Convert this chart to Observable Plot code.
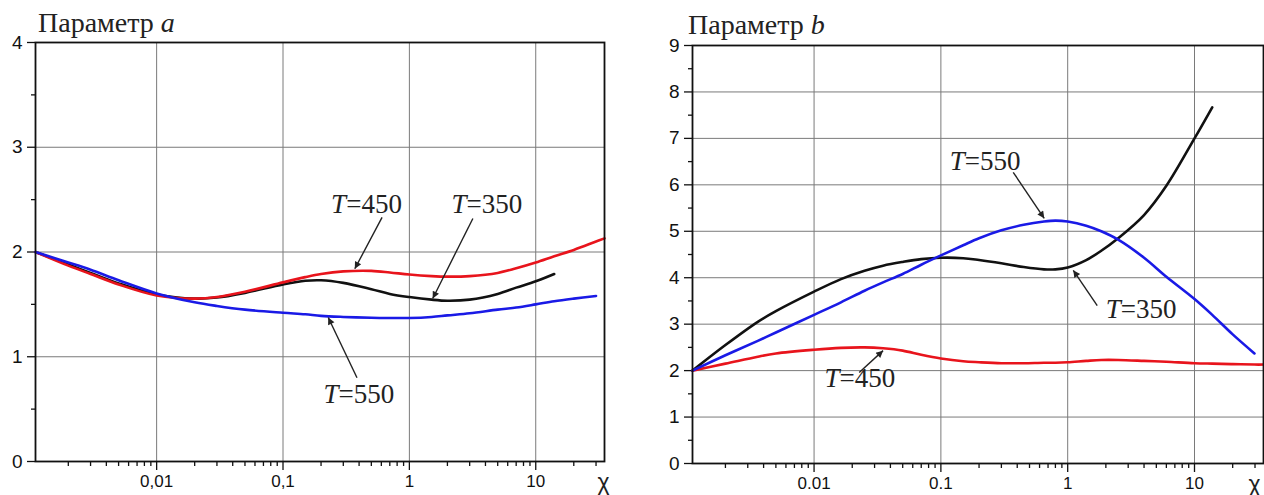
<!DOCTYPE html>
<html><head><meta charset="utf-8">
<script src="https://cdn.jsdelivr.net/npm/d3@7"></script>
<script src="https://cdn.jsdelivr.net/npm/@observablehq/plot@0.6"></script>
<style>
body{margin:0;background:#fff;}
#wrap{display:flex;width:1264px;height:495px;overflow:hidden;}
</style></head><body><div id="wrap"></div>
<script>
// ---------- data: chart a ----------
const chiA  = [0.0011,0.002,0.003,0.005,0.01,0.02,0.03,0.05,0.1,0.15,0.2,0.3,0.5,0.7,1,1.5,2,3,5,7,10,14,20,30,35];
const aT350 = [2.0,1.88,1.80,1.70,1.595,1.555,1.565,1.61,1.69,1.725,1.73,1.705,1.645,1.60,1.57,1.545,1.535,1.545,1.60,1.66,1.72,1.79,null,null,null];
const aT450 = [2.0,1.87,1.79,1.69,1.585,1.555,1.57,1.62,1.71,1.76,1.79,1.815,1.82,1.805,1.785,1.77,1.765,1.77,1.80,1.845,1.90,1.96,2.02,2.10,2.13];
const aT550 = [2.0,1.90,1.83,1.73,1.605,1.52,1.485,1.45,1.42,1.405,1.39,1.38,1.372,1.37,1.37,1.38,1.395,1.415,1.45,1.47,1.50,1.53,1.555,1.58,null];

// ---------- data: chart b ----------
const chiB  = [0.0011,0.002,0.0036,0.005,0.01,0.0163,0.025,0.035,0.05,0.07,0.1,0.15,0.2,0.3,0.45,0.65,0.8,1,1.4,1.84,2.5,4,6,10,13.8,20,29.7,35];
const bT350 = [2.0,2.55,3.05,3.28,3.70,3.97,4.15,4.26,4.34,4.40,4.43,4.42,4.38,4.31,4.23,4.18,4.18,4.22,4.38,4.58,4.85,5.35,5.98,7.0,7.67,null,null,null];
const bT450 = [2.0,2.15,2.30,2.37,2.45,2.49,2.50,2.48,2.43,2.34,2.26,2.20,2.18,2.16,2.16,2.17,2.17,2.18,2.21,2.23,2.23,2.21,2.19,2.16,2.15,2.14,2.13,2.13];
const bT550 = [2.0,2.33,2.64,2.82,3.2,3.47,3.72,3.9,4.08,4.28,4.48,4.70,4.85,5.02,5.14,5.21,5.23,5.21,5.12,5.0,4.82,4.43,4.02,3.54,3.2,2.78,2.37,null];

// ---------- ticks ----------
const xDomain = [0.0011, 35];
const majorX = [0.01, 0.1, 1, 10];
const majorXLabelsA = ["0,01", "0,1", "1", "10"];
const majorXLabelsB = ["0.01", "0.1", "1", "10"];
const minorX = [0.002,0.003,0.004,0.005,0.006,0.007,0.008,0.009,
                0.02,0.03,0.04,0.05,0.06,0.07,0.08,0.09,
                0.2,0.3,0.4,0.5,0.6,0.7,0.8,0.9,
                2,3,4,5,6,7,8,9,20,30];
const majorYA = [0,1,2,3,4];
const minorYA = [0.5,1.5,2.5,3.5];
const majorYB = [0,1,2,3,4,5,6,7,8,9];
const minorYB = [0.5,1.5,2.5,3.5,4.5,5.5,6.5,7.5,8.5];

// ---------- annotations ----------
const annA_x = [0.316, 2.83, 0.275];
const annA_y = [2.37, 2.37, 0.563];
const annA_num = ["=450", "=350", "=550"];
const arrA_x1 = [0.608, 3.18, 0.385];
const arrA_y1 = [2.33, 2.32, 0.80];
const arrA_x2 = [0.37, 1.53, 0.228];
const arrA_y2 = [1.84, 1.556, 1.375];

const annB_x = [0.154, 2.62, 0.0159];
const annB_y = [6.33, 3.14, 1.64];
const annB_num = ["=550", "=350", "=450"];
const arrB_x1 = [0.372, 1.71, 0.0227];
const arrB_y1 = [6.27, 3.40, 1.96];
const arrB_x2 = [0.653, 1.107, 0.035];
const arrB_y2 = [5.28, 4.16, 2.43];

const RED = "#e8141c", BLUE = "#1a1ae6", BLACK = "#111";
const SERIF = "Liberation Serif, Times New Roman, serif";
const SANS = "Liberation Sans, Arial, sans-serif";

function makeChart(opt) {
  const {id, width, ml, mr, mt, mb, yMax, majorY, minorY, xLabels, chi, s350, s450, s550,
         annX, annY, annNum, ax1, ay1, ax2, ay2, title, titleVar, titleX, titleY, chiDx} = opt;
  const ann = annX.map((x, i) => ({x, y: annY[i], num: annNum[i]}));
  const arr = ax1.map((x, i) => ({x1: x, y1: ay1[i], x2: ax2[i], y2: ay2[i]}));
  const svg = Plot.plot({
    width, height: 495,
    marginLeft: ml, marginRight: mr, marginTop: mt, marginBottom: mb,
    style: {fontFamily: SANS, color: "#111", background: "transparent", overflow: "visible"},
    x: {type: "log", domain: xDomain, label: null, axis: null},
    y: {domain: [0, yMax], label: null, axis: null},
    marks: [
      Plot.gridX(majorX, {stroke: "#7a7a7a", strokeOpacity: 1, strokeWidth: 1}),
      Plot.gridY(majorY, {stroke: "#7a7a7a", strokeOpacity: 1, strokeWidth: 1}),
      Plot.axisX(minorX, {tickSize: 5, tickFormat: () => "", strokeWidth: 1.3}),
      Plot.axisX(majorX, {tickSize: 9, tickPadding: 4, fontSize: 17, strokeWidth: 1.3,
        tickFormat: (d) => xLabels[majorX.indexOf(d)]}),
      Plot.axisY(minorY, {tickSize: 4, tickFormat: () => "", strokeWidth: 1.3}),
      Plot.axisY(majorY, {tickSize: 8, tickPadding: 5, fontSize: 19, strokeWidth: 1.3,
        tickFormat: (d) => String(d)}),
      Plot.line(chi, {x: chi, y: s350, stroke: BLACK, strokeWidth: 2.6, curve: "catmull-rom"}),
      Plot.line(chi, {x: chi, y: s450, stroke: RED, strokeWidth: 2.6, curve: "catmull-rom"}),
      Plot.line(chi, {x: chi, y: s550, stroke: BLUE, strokeWidth: 2.6, curve: "catmull-rom"}),
      Plot.link(arr, {x1: "x1", y1: "y1", x2: "x2", y2: "y2", stroke: "#222", strokeWidth: 1.4}),
      Plot.text(ann, {x: "x", y: "y", text: () => "T", textAnchor: "end", lineAnchor: "bottom",
        fontFamily: SERIF, fontSize: 27, fontStyle: "italic", fill: "#222"}),
      Plot.text(ann, {x: "x", y: "y", text: "num", textAnchor: "start", lineAnchor: "bottom",
        fontFamily: SERIF, fontSize: 27, fill: "#222"}),
      Plot.text(["χ"], {frameAnchor: "bottom-right", textAnchor: "end", lineAnchor: "bottom",
        dx: chiDx, dy: 28, fontFamily: SANS, fontSize: 23, fill: "#222"}),
      Plot.frame({stroke: "#111", strokeWidth: 1.8})
    ]
  });
  const s = d3.select(svg);
  // filled arrowhead marker for the annotation leaders
  s.insert("defs", ":first-child").append("marker")
    .attr("id", id).attr("viewBox", "0 0 10 10").attr("refX", 10).attr("refY", 5)
    .attr("markerWidth", 14).attr("markerHeight", 7).attr("markerUnits", "userSpaceOnUse")
    .attr("orient", "auto")
    .append("path").attr("d", "M0,0L10,5L0,10z").attr("fill", "#222");
  s.selectAll('g[aria-label="link"] path').attr("marker-end", `url(#${id})`);
  const t = s.append("text")
    .attr("x", titleX).attr("y", titleY).attr("text-anchor", "start")
    .attr("font-family", SERIF).attr("font-size", 28).attr("fill", "#222");
  t.append("tspan").text(title);
  t.append("tspan").attr("font-style", "italic").text(titleVar);
  return svg;
}

const wrap = document.getElementById("wrap");
wrap.appendChild(makeChart({
  id: "ahA", width: 640, ml: 35, mr: 36, mt: 42, mb: 34, yMax: 4,
  majorY: majorYA, minorY: minorYA, xLabels: majorXLabelsA,
  chi: chiA, s350: aT350, s450: aT450, s550: aT550,
  annX: annA_x, annY: annA_y, annNum: annA_num,
  ax1: arrA_x1, ay1: arrA_y1, ax2: arrA_x2, ay2: arrA_y2,
  title: "Параметр ", titleVar: "a", titleX: 38, titleY: 32, chiDx: 5
}));
wrap.appendChild(makeChart({
  id: "ahB", width: 624, ml: 52, mr: 1, mt: 45, mb: 32, yMax: 9,
  majorY: majorYB, minorY: minorYB, xLabels: majorXLabelsB,
  chi: chiB, s350: bT350, s450: bT450, s550: bT550,
  annX: annB_x, annY: annB_y, annNum: annB_num,
  ax1: arrB_x1, ay1: arrB_y1, ax2: arrB_x2, ay2: arrB_y2,
  title: "Параметр ", titleVar: "b", titleX: 48, titleY: 34, chiDx: -3
}));
</script>
</body></html>
